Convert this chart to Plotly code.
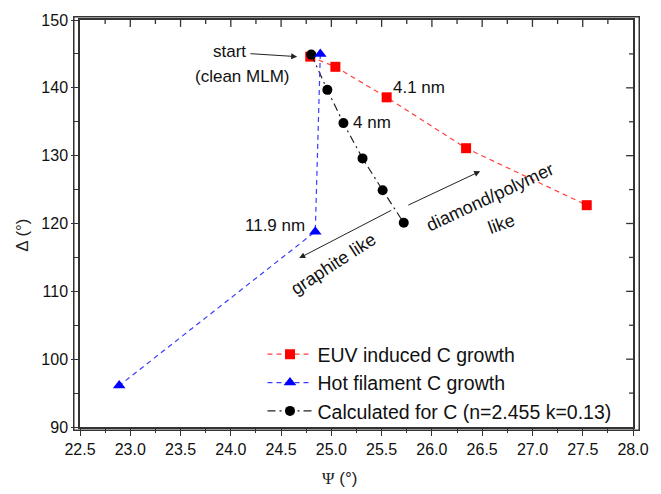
import plotly.graph_objects as go

# ---- data ----
euv_psi = [24.79, 25.04, 25.55, 26.34, 27.54]
euv_delta = [144.6, 143.1, 138.6, 131.1, 122.7]

hot_psi = [24.89, 24.84, 22.89]
hot_delta = [145.0, 118.8, 96.1]

calc_psi = [24.80, 24.96, 25.12, 25.31, 25.51, 25.72]
calc_delta = [144.9, 139.7, 134.8, 129.6, 124.9, 120.1]

series_names = ["EUV induced C growth", "Hot filament C growth",
                "Calculated for C (n=2.455 k=0.13)"]

x_ticks = [22.5, 23.0, 23.5, 24.0, 24.5, 25.0, 25.5, 26.0, 26.5, 27.0, 27.5, 28.0]
y_ticks = [90, 100, 110, 120, 130, 140, 150]
x_minor = [22.75 + 0.5 * i for i in range(11)]
y_minor = [95, 105, 115, 125, 135, 145]

FONT = "Arial, Liberation Sans, sans-serif"
W, H = 661, 494
ML, MR, MT, MB = 80, 17, 15, 67
PW, PH = W - ML - MR, H - MT - MB

fig = go.Figure()
fig.add_trace(go.Scatter(
    x=euv_psi, y=euv_delta, name=series_names[0], mode="lines+markers",
    line=dict(color="#ff4040", width=1.2, dash="5px,4px"),
    marker=dict(symbol="square", size=10, color="#ff0000"),
    legendrank=1))
fig.add_trace(go.Scatter(
    x=calc_psi, y=calc_delta, name=series_names[2], mode="lines+markers",
    line=dict(color="#222222", width=1.2, dash="8px,4px,2px,4px"),
    marker=dict(symbol="circle", size=10, color="#000000"),
    legendrank=3))
fig.add_trace(go.Scatter(
    x=hot_psi, y=hot_delta, name=series_names[1], mode="lines+markers",
    line=dict(color="#3c3cff", width=1.2, dash="5px,4px"),
    marker=dict(symbol="triangle-up", size=11, color="#0000ff"),
    legendrank=2))

LC = "#333333"
axis_common = dict(showgrid=False, zeroline=False, showline=True, mirror=True,
                   linecolor=LC, linewidth=1.5,
                   tickcolor=LC, tickwidth=1.3, ticklabeloverflow="allow",
                   tickfont=dict(family=FONT, size=16, color="#111111"))

fig.update_layout(
    width=W, height=H,
    margin=dict(l=ML, r=MR, t=MT, b=MB),
    paper_bgcolor="white", plot_bgcolor="white",
    font=dict(family=FONT, color="#111111"),
    xaxis=dict(range=[22.5, 28.0], tickvals=x_ticks,
               ticktext=[f"{v:.1f}" for v in x_ticks],
               ticks="outside", ticklen=7,
               minor=dict(tickvals=x_minor, ticks="outside", ticklen=4,
                          tickcolor=LC, tickwidth=1.3),
               **axis_common),
    yaxis=dict(range=[90, 150], tickvals=y_ticks,
               ticks="outside", ticklen=7,
               minor=dict(tickvals=y_minor, ticks="outside", ticklen=4,
                          tickcolor=LC, tickwidth=1.3),
               **axis_common),
    legend=dict(x=0.33, y=0.226, xanchor="left", yanchor="top",
                bgcolor="rgba(0,0,0,0)", borderwidth=0,
                font=dict(family=FONT, size=19.5, color="#111111"),
                itemwidth=45, tracegroupgap=0),
    showlegend=True,
)

# inward ticks on the top and right frame edges
shapes = []
tick_line = dict(color=LC, width=1.3)
for v in x_ticks[1:-1]:
    shapes.append(dict(type="line", xref="x", yref="paper", x0=v, x1=v,
                       y0=1, y1=1 - 7 / PH, line=tick_line, layer="above"))
for v in x_minor:
    shapes.append(dict(type="line", xref="x", yref="paper", x0=v, x1=v,
                       y0=1, y1=1 - 4 / PH, line=tick_line, layer="above"))
for v in y_ticks[1:-1]:
    shapes.append(dict(type="line", xref="paper", yref="y", x0=1, x1=1 - 7 / PW,
                       y0=v, y1=v, line=tick_line, layer="above"))
for v in y_minor:
    shapes.append(dict(type="line", xref="paper", yref="y", x0=1, x1=1 - 4 / PW,
                       y0=v, y1=v, line=tick_line, layer="above"))
fig.update_layout(shapes=shapes)

ann_font = dict(family=FONT, size=17, color="#111111")
rot_font = dict(family=FONT, size=18, color="#111111")
annotations = [
    # frame around the plot area
    dict(text=" ", xref="paper", yref="paper", x=0.5, y=0.5,
         xanchor="center", yanchor="middle", width=PW, height=PH,
         borderpad=0, borderwidth=1.5, bordercolor=LC, showarrow=False),
    # axis titles
    dict(text="<span style='font-family:Liberation Serif'>Ψ</span> (°)",
         xref="paper", yref="paper", x=0.47, y=-0.155,
         showarrow=False, font=dict(family=FONT, size=17, color="#222222")),
    dict(text="Δ (°)", xref="paper", yref="paper", x=-0.103, y=0.47,
         xanchor="center", yanchor="middle",
         textangle=-90, showarrow=False,
         font=dict(family=FONT, size=17, color="#222222")),
    # labels
    dict(text="start", x=23.99, y=145.3, showarrow=False, font=ann_font),
    dict(text="(clean MLM)", x=24.11, y=141.7, showarrow=False, font=ann_font),
    dict(text="4.1 nm", x=25.59, y=140.1, xanchor="left", showarrow=False, font=ann_font),
    dict(text="4 nm", x=25.20, y=134.9, xanchor="left", showarrow=False, font=ann_font),
    dict(text="11.9 nm", x=24.76, y=119.7, xanchor="right", showarrow=False, font=ann_font),
    dict(text="graphite like", x=25.02, y=114.0, textangle=-33, showarrow=False, font=rot_font),
    dict(text="diamond/polymer", x=26.58, y=123.9, textangle=-25, showarrow=False, font=rot_font),
    dict(text="like", x=26.69, y=119.9, textangle=-20, showarrow=False, font=rot_font),
    # arrows
    dict(x=24.66, y=144.6, ax=24.18, ay=145.05, axref="x", ayref="y",
         text="", showarrow=True, arrowhead=2, arrowsize=1.2, arrowwidth=1,
         arrowcolor="#222222"),
    dict(x=24.68, y=114.9, ax=25.61, ay=122.05, axref="x", ayref="y",
         text="", showarrow=True, arrowhead=2, arrowsize=1.2, arrowwidth=1,
         arrowcolor="#222222"),
    dict(x=26.48, y=127.7, ax=25.75, ay=122.6, axref="x", ayref="y",
         text="", showarrow=True, arrowhead=2, arrowsize=1.2, arrowwidth=1,
         arrowcolor="#222222"),
]
fig.update_layout(annotations=annotations)

fig.write_html("out.html")
